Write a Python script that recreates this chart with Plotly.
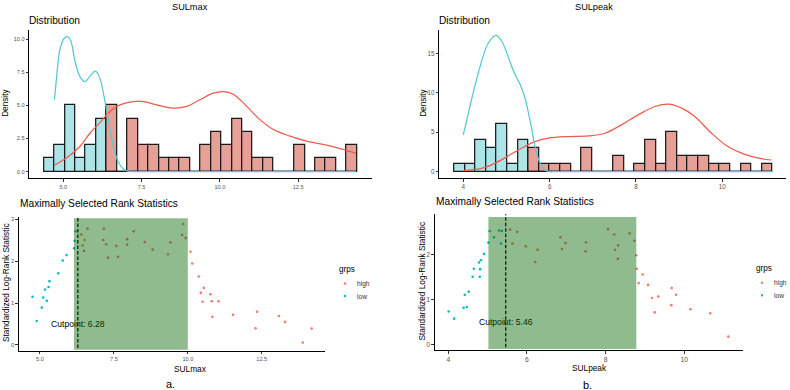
import plotly.graph_objects as go

W, H = 790, 390
FONT = "Liberation Sans, Arial, sans-serif"
RED, CYAN = "#F8766D", "#00BFC4"
RED_LINE, CYAN_LINE = "#EE5B4B", "#55C7D5"
RED_FILL, CYAN_FILL = "rgb(231,160,152)", "rgb(172,228,232)"

# ---------------- SULmax: distribution ----------------
MAX_BIN_START = 4.385
MAX_BIN_WIDTH = 0.3333
max_low_counts = [1, 2, 5, 1, 2, 4, 0, 0, 0, 0, 0, 0, 0, 0, 0,
                  0, 0, 0, 0, 0, 0, 0, 0, 0, 0, 0, 0, 0, 0, 0]
max_high_counts = [0, 0, 0, 0, 0, 0, 5, 0, 4, 2, 2, 1, 1, 1, 0,
                   2, 3, 2, 4, 3, 1, 1, 0, 0, 2, 0, 1, 1, 0, 2]
max_low_dens_x = [4.72, 4.79, 4.89, 5.02, 5.14, 5.24, 5.37, 5.53, 5.69, 5.85, 6.03,
                  6.17, 6.30, 6.44, 6.60, 6.76, 6.92, 7.13, 7.35, 14.35]
max_low_dens_y = [5.43, 7.2, 9.2, 10.05, 10.2, 9.9, 8.4, 7.2, 6.8, 7.2, 7.6,
                  7.05, 5.7, 3.9, 1.9, 0.7, 0.2, 0.0, 0.0, 0.0]
max_high_dens_x = [4.72, 5.11, 5.53, 5.85, 6.17, 6.49, 6.81, 7.24, 7.56, 7.98, 8.51, 8.94,
                   9.36, 9.79, 10.11, 10.43, 10.86, 11.28, 11.71, 12.24, 12.77, 13.41, 13.94, 14.35]
max_high_dens_y = [0.5, 1.05, 1.9, 2.9, 3.7, 4.55, 5.05, 5.3, 5.3, 5.05, 4.8, 4.93,
                   5.43, 5.93, 6.05, 5.85, 4.93, 3.93, 3.18, 2.68, 2.3, 2.0, 1.68, 1.38]

# ---------------- SULpeak: distribution ----------------
PEAK_BIN_START = 3.79
PEAK_BIN_WIDTH = 0.2459
peak_low_counts = [1, 1, 4, 3, 6, 1, 4, 0, 0, 0, 0, 0, 0, 0, 0,
                   0, 0, 0, 0, 0, 0, 0, 0, 0, 0, 0, 0, 0, 0, 0]
peak_high_counts = [0, 0, 0, 0, 0, 0, 0, 3, 1, 1, 1, 0, 3, 0, 0,
                    2, 0, 1, 4, 1, 5, 2, 2, 2, 1, 1, 0, 1, 0, 1]
peak_low_dens_x = [4.00, 4.19, 4.39, 4.58, 4.76, 4.89, 5.01, 5.09, 5.20, 5.32, 5.42,
                   5.51, 5.59, 5.66, 5.78, 5.89, 6.01, 6.12, 11.16]
peak_low_dens_y = [4.66, 9.11, 13.35, 16.31, 17.29, 16.53, 15.04, 13.77, 12.29, 11.02, 9.53,
                   7.42, 5.30, 3.18, 1.06, 0.21, 0.0, 0.0, 0.0]
peak_high_dens_x = [4.00, 4.42, 4.73, 5.04, 5.35, 5.66, 5.97, 6.43, 6.89, 7.28, 7.66, 8.05,
                    8.44, 8.75, 9.06, 9.36, 9.75, 10.13, 10.52, 10.90, 11.14]
peak_high_dens_y = [0.13, 0.42, 1.06, 2.0, 2.97, 3.8, 4.24, 4.45, 4.53, 4.87, 5.93, 7.2,
                    8.26, 8.56, 8.05, 7.0, 4.87, 3.18, 2.2, 1.65, 1.48]

# ---------------- SULmax: maximally selected rank statistics ----------------
MAX_CUT = 6.28
MAX_RECT = (6.15, 10.0, 3.02)
max_low_x = [4.75, 4.89, 5.06, 5.11, 5.17, 5.23, 5.29, 5.32, 5.62, 5.77, 5.90, 6.15, 6.17, 6.20]
max_low_y = [1.15, 0.57, 0.89, 1.13, 1.32, 1.05, 1.38, 1.52, 1.71, 2.01, 2.14, 2.30, 2.48, 2.71]
max_high_x = [6.40, 6.44, 6.49, 6.51, 6.61, 7.14, 7.16, 7.24, 7.30, 7.58, 7.64, 7.95, 7.95,
              8.17, 8.54, 8.81, 9.33, 9.41, 9.81, 9.84, 9.93, 10.09, 10.15, 10.37, 10.44,
              10.50, 10.54, 10.77, 10.81, 10.83, 11.04, 11.53, 12.29, 12.34, 13.08, 13.29,
              13.89, 14.19]
max_high_y = [2.63, 2.37, 2.24, 2.50, 2.77, 2.50, 2.77, 2.40, 2.08, 2.36, 2.10, 2.52, 2.39,
              2.71, 2.45, 2.27, 2.16, 2.44, 2.62, 2.88, 2.55, 2.22, 1.94, 1.63, 1.24,
              1.03, 1.36, 1.21, 1.04, 0.67, 1.04, 0.72, 0.40, 0.79, 0.69, 0.55,
              0.06, 0.39]

# ---------------- SULpeak: maximally selected rank statistics ----------------
PEAK_CUT = 5.46
PEAK_RECT = (5.02, 8.78, 2.83)
peak_low_x = [4.01, 4.15, 4.39, 4.42, 4.47, 4.52, 4.62, 4.65, 4.78, 4.80, 4.81, 4.83, 4.91,
              5.02, 5.05, 5.16, 5.29, 5.34, 5.36]
peak_low_y = [0.73, 0.57, 0.81, 1.10, 0.83, 1.17, 1.50, 1.68, 1.82, 1.50, 1.67, 1.87, 2.01,
              2.26, 2.52, 2.38, 2.53, 2.24, 2.52]
peak_high_x = [5.57, 5.63, 5.75, 5.97, 6.21, 6.27, 6.85, 6.89, 6.98, 7.49, 7.50, 8.06, 8.22,
               8.24, 8.31, 8.32, 8.61, 8.73, 8.78, 8.79, 8.84, 8.94, 9.08, 9.18, 9.25, 9.34,
               9.67, 9.68, 9.79, 10.16, 10.66, 11.12]
peak_high_y = [2.55, 2.24, 2.50, 2.18, 1.83, 2.10, 2.38, 2.12, 2.25, 2.07, 2.27, 2.56, 2.44,
               2.10, 1.90, 2.20, 2.47, 2.30, 1.98, 1.68, 1.36, 1.55, 1.32, 1.03, 0.71, 1.06,
               0.87, 1.25, 1.10, 0.78, 0.69, 0.17]


def centers(start, width, n):
    return [start + width * (i + 0.5) for i in range(n)]


fig = go.Figure()


def add_hist(start, width, low, high, xa, ya):
    cx = centers(start, width, len(low))
    for counts, fill in ((high, RED_FILL), (low, CYAN_FILL)):
        fig.add_trace(go.Bar(x=cx, y=counts, width=width, xaxis=xa, yaxis=ya,
                             marker=dict(color=fill, line=dict(color="#1a1a1a", width=1.25)),
                             showlegend=False, hoverinfo="skip"))


def add_dens(x, y, color, xa, ya):
    fig.add_trace(go.Scatter(x=x, y=y, mode="lines", xaxis=xa, yaxis=ya,
                             line=dict(color=color, width=1.25, shape="spline", smoothing=1),
                             showlegend=False, hoverinfo="skip"))


add_hist(MAX_BIN_START, MAX_BIN_WIDTH, max_low_counts, max_high_counts, "x", "y")
add_dens(max_high_dens_x, max_high_dens_y, RED_LINE, "x", "y")
add_dens(max_low_dens_x, max_low_dens_y, CYAN_LINE, "x", "y")

add_hist(PEAK_BIN_START, PEAK_BIN_WIDTH, peak_low_counts, peak_high_counts, "x2", "y2")
add_dens(peak_high_dens_x, peak_high_dens_y, RED_LINE, "x2", "y2")
add_dens(peak_low_dens_x, peak_low_dens_y, CYAN_LINE, "x2", "y2")


def add_points(x, y, color, xa, ya):
    fig.add_trace(go.Scatter(x=x, y=y, mode="markers", xaxis=xa, yaxis=ya,
                             marker=dict(color=color, size=2.6, line=dict(width=0)),
                             showlegend=False, hoverinfo="skip"))


def add_cut_text(cut, xa, ya):
    fig.add_trace(go.Scatter(x=[cut], y=[0.48], mode="text", text=[f"Cutpoint: {cut}"],
                             textposition="middle center", xaxis=xa, yaxis=ya,
                             textfont=dict(size=8.6, color="black", family=FONT),
                             showlegend=False, hoverinfo="skip"))


add_points(max_high_x, max_high_y, RED, "x3", "y3")
add_points(max_low_x, max_low_y, CYAN, "x3", "y3")
add_cut_text(MAX_CUT, "x3", "y3")
add_points(peak_high_x, peak_high_y, RED, "x4", "y4")
add_points(peak_low_x, peak_low_y, CYAN, "x4", "y4")
add_cut_text(PEAK_CUT, "x4", "y4")


def px_dom(a, b, total):
    return [a / total, b / total]


def py_dom(top, bottom):
    return [1 - bottom / H, 1 - top / H]


axis_common = dict(showline=True, linecolor="black", linewidth=1.1, ticks="outside",
                   ticklen=2.5, tickwidth=1, tickcolor="#333", showgrid=False,
                   zeroline=False, fixedrange=True)

Y3_RANGE = [-0.136, 3.055]
Y4_RANGE = [-0.127, 2.89]

fig.update_layout(
    width=W, height=H, margin=dict(l=0, r=0, t=0, b=0),
    paper_bgcolor="white", plot_bgcolor="white", barmode="overlay", bargap=0,
    font=dict(family=FONT),
    xaxis=dict(axis_common, domain=px_dom(29.3, 372, W), range=[3.915, 14.86], anchor="y",
               tickvals=[5, 7.5, 10, 12.5], tickformat=".1f",
               tickfont=dict(size=5.6, color="#555")),
    yaxis=dict(axis_common, domain=py_dom(30, 178.3), range=[-0.51, 10.71], anchor="x",
               tickvals=[0, 2.5, 5, 7.5, 10], tickformat=".1f",
               tickfont=dict(size=5.6, color="#555")),
    xaxis2=dict(axis_common, domain=px_dom(439.3, 786, W), range=[3.444, 11.475], anchor="y2",
                tickvals=[4, 6, 8, 10], tickfont=dict(size=6.3, color="#555")),
    yaxis2=dict(axis_common, domain=py_dom(30, 178.3), range=[-0.84, 17.96], anchor="x2",
                tickvals=[0, 5, 10, 15], tickfont=dict(size=6.3, color="#555")),
    xaxis3=dict(axis_common, domain=px_dom(19, 325, W), range=[4.29, 14.64], anchor="y3",
                tickvals=[5, 7.5, 10, 12.5], tickformat=".1f",
                tickfont=dict(size=5.6, color="#555")),
    yaxis3=dict(axis_common, domain=py_dom(216.7, 350.7), range=Y3_RANGE, anchor="x3",
                tickvals=[0, 1, 2, 3], tickfont=dict(size=5.8, color="#555")),
    xaxis4=dict(axis_common, domain=px_dom(435, 742.7, W), range=[3.662, 11.485], anchor="y4",
                tickvals=[4, 6, 8, 10], tickfont=dict(size=6.8, color="#555")),
    yaxis4=dict(axis_common, domain=py_dom(214.3, 350), range=Y4_RANGE, anchor="x4",
                tickvals=[0, 1, 2], tickfont=dict(size=6.8, color="#555")),
)

shapes = []
for cut, rect, xa, ya, yr in ((MAX_CUT, MAX_RECT, "x3", "y3", Y3_RANGE),
                              (PEAK_CUT, PEAK_RECT, "x4", "y4", Y4_RANGE)):
    shapes.append(dict(type="line", xref=xa, yref=ya + " domain", x0=cut, x1=cut, y0=0.02, y1=1,
                       line=dict(color="black", width=1.3, dash="3.5px,2px"), layer="below"))
    shapes.append(dict(type="rect", xref=xa, yref=ya, x0=rect[0], x1=rect[1],
                       y0=yr[0] + 0.02, y1=rect[2], fillcolor="rgb(0,100,0)", opacity=0.44,
                       line=dict(width=0), layer="above"))

annotations = []


def ann(text, px, py, size, xanchor="center", yanchor="middle", angle=0, color="black"):
    annotations.append(dict(text=text, x=px / W, y=1 - py / H, xref="paper", yref="paper",
                            showarrow=False, xanchor=xanchor, yanchor=yanchor, textangle=angle,
                            borderpad=0, font=dict(size=size, color=color, family=FONT)))


ann("SULmax", 190, 6.5, 9.2)
ann("SULpeak", 594, 6.5, 9.2)
ann("Distribution", 27.5, 20, 10.2, xanchor="left")
ann("Distribution", 438.5, 20, 10.2, xanchor="left")
ann("Density", 5.5, 103.3, 8.2, angle=-90)
ann("Density", 423.5, 103.3, 8.2, angle=-90)
ann("Maximally Selected Rank Statistics", 19, 203.3, 10.2, xanchor="left")
ann("Maximally Selected Rank Statistics", 435, 201.7, 10.2, xanchor="left")
ann("Standardized Log-Rank Statistic", 5.5, 282.5, 8.3, angle=-90)
ann("Standardized Log-Rank Statistic", 421.7, 280.8, 8.3, angle=-90)
ann("SULmax", 190.3, 368.7, 8.3)
ann("SULpeak", 589, 368.3, 8.3)
ann("a.", 170, 384, 11)
ann("b.", 587, 384.5, 11)

for lx, ly in ((338, 269), (755, 268.3)):
    ann("grps", lx, ly, 8.2, xanchor="left")
    ann("high", lx + 18, ly + 14.5, 6.6, xanchor="left", color="#333")
    ann("low", lx + 18, ly + 27, 6.6, xanchor="left", color="#333")
    for dy, col in ((14.5, RED), (27, CYAN)):
        shapes.append(dict(type="circle", xref="paper", yref="paper",
                           xsizemode="pixel", ysizemode="pixel",
                           xanchor=(lx + 7) / W, yanchor=1 - (ly + dy) / H,
                           x0=-1.2, x1=1.2, y0=-1.2, y1=1.2,
                           fillcolor=col, line=dict(width=0)))

fig.update_layout(shapes=shapes, annotations=annotations)
fig.write_html("out.html")
